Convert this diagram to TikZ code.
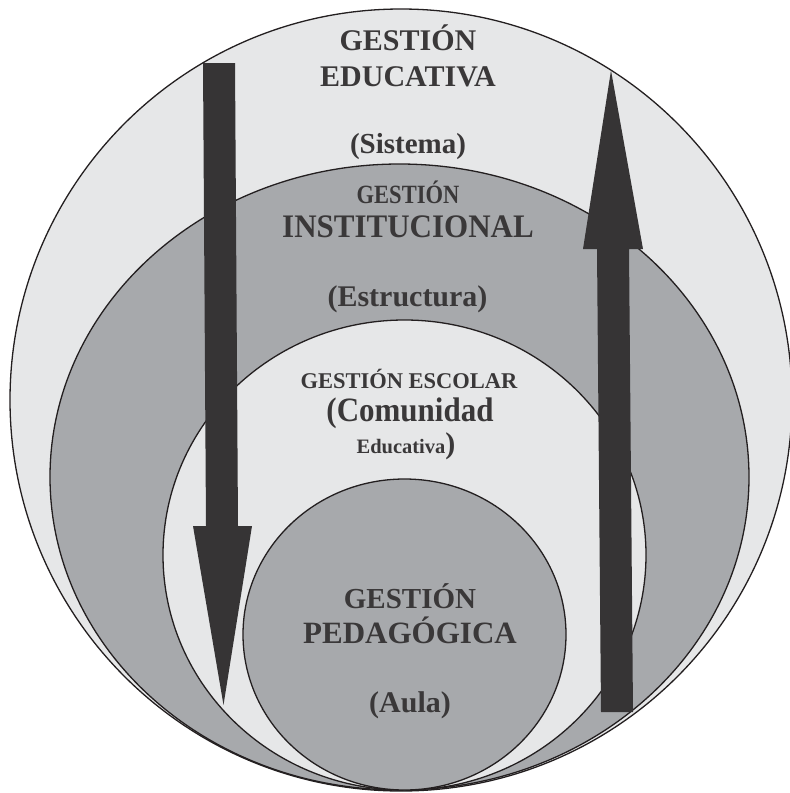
\documentclass[tikz,border=0pt]{standalone}
\usepackage{fontspec}
\setmainfont{Liberation Serif}
\usetikzlibrary{shapes.geometric}

\definecolor{ClaroGris}{HTML}{E6E7E8}
\definecolor{MedioGris}{HTML}{A7A9AC}
\definecolor{Oscuro}{HTML}{363435}
\definecolor{Borde}{HTML}{231F20}
\definecolor{Letra}{HTML}{3A3839}

\begin{document}
\begin{tikzpicture}[x=1pt,y=1pt]
                \useasboundingbox (0,0) rectangle (790,-793);
                \tikzset{ZonaStyle/.style={ellipse, draw=Borde, line width=1.3pt, inner sep=0pt}}
                \tikzset{FlechaStyle/.style={fill=Oscuro, draw=none}}
                \tikzset{RotuloStyle/.style={anchor=base, text=Letra, inner sep=0pt, font=\bfseries}}

                % zonas, de fuera hacia dentro
                \node[ZonaStyle, fill=ClaroGris, minimum width=782, minimum height=782] (educativa) at (401,-400) {};
                \node[ZonaStyle, fill=MedioGris, minimum width=699, minimum height=626] (institucional) at (399.5,-477) {};
                \node[ZonaStyle, fill=ClaroGris, minimum width=483, minimum height=470] (escolar) at (404.5,-555) {};
                \node[ZonaStyle, fill=MedioGris, minimum width=323, minimum height=311] (pedagogica) at (404.5,-634.5) {};

                % flecha hacia abajo
                \coordinate (baja-a) at (203,-63);
                \coordinate (baja-b) at (235,-63);
                \coordinate (baja-punta) at (223.5,-705);
                \fill[FlechaStyle] (baja-a) -- (baja-b) -- (238,-526) -- (252,-526)
                      -- (baja-punta) -- (193,-526) -- (206,-526) -- cycle;

                % flecha hacia arriba
                \coordinate (sube-punta) at (611,-70.5);
                \coordinate (sube-a) at (633,-712);
                \coordinate (sube-b) at (601,-712);
                \fill[FlechaStyle] (sube-punta) -- (643,-249) -- (629,-249) -- (sube-a)
                      -- (sube-b) -- (597,-249) -- (583,-249) -- cycle;

                % rotulos
                \node[RotuloStyle, font=\bfseries\fontsize{30}{30}\selectfont] (edu-1) at (408,-50) {GESTIÓN};
                \node[RotuloStyle, font=\bfseries\fontsize{30}{30}\selectfont] (edu-2) at (408,-86) {EDUCATIVA};
                \node[RotuloStyle, font=\bfseries\fontsize{29}{29}\selectfont] (edu-3) at (408,-153) {(Sistema)};

                \node[RotuloStyle, yscale=1.17, transform shape, font=\bfseries\fontsize{22.5}{22.5}\selectfont] (ins-1) at (408,-203) {GESTIÓN};
                \node[RotuloStyle, yscale=1.06, transform shape, font=\bfseries\fontsize{31}{31}\selectfont] (ins-2) at (408,-237) {INSTITUCIONAL};
                \node[RotuloStyle, font=\bfseries\fontsize{30}{30}\selectfont] (ins-3) at (407.5,-306) {(Estructura)};

                \node[RotuloStyle, font=\bfseries\fontsize{22.5}{22.5}\selectfont] (esc-1) at (409,-388) {GESTIÓN ESCOLAR};
                \node[RotuloStyle, yscale=1.1, transform shape, font=\bfseries\fontsize{31}{31}\selectfont] (esc-2) at (410,-421) {(Comunidad};
                \node[RotuloStyle, font=\bfseries\fontsize{20.5}{20.5}\selectfont] (esc-3) at (406,-453)
                      {Educativa{\fontsize{30}{30}\selectfont)}};

                \node[RotuloStyle, font=\bfseries\fontsize{29}{29}\selectfont] (ped-1) at (410,-608) {GESTIÓN};
                \node[RotuloStyle, font=\bfseries\fontsize{31}{31}\selectfont] (ped-2) at (410,-643) {PEDAGÓGICA};
                \node[RotuloStyle, font=\bfseries\fontsize{30}{30}\selectfont] (ped-3) at (410,-712) {(Aula)};

\end{tikzpicture}
\end{document}
